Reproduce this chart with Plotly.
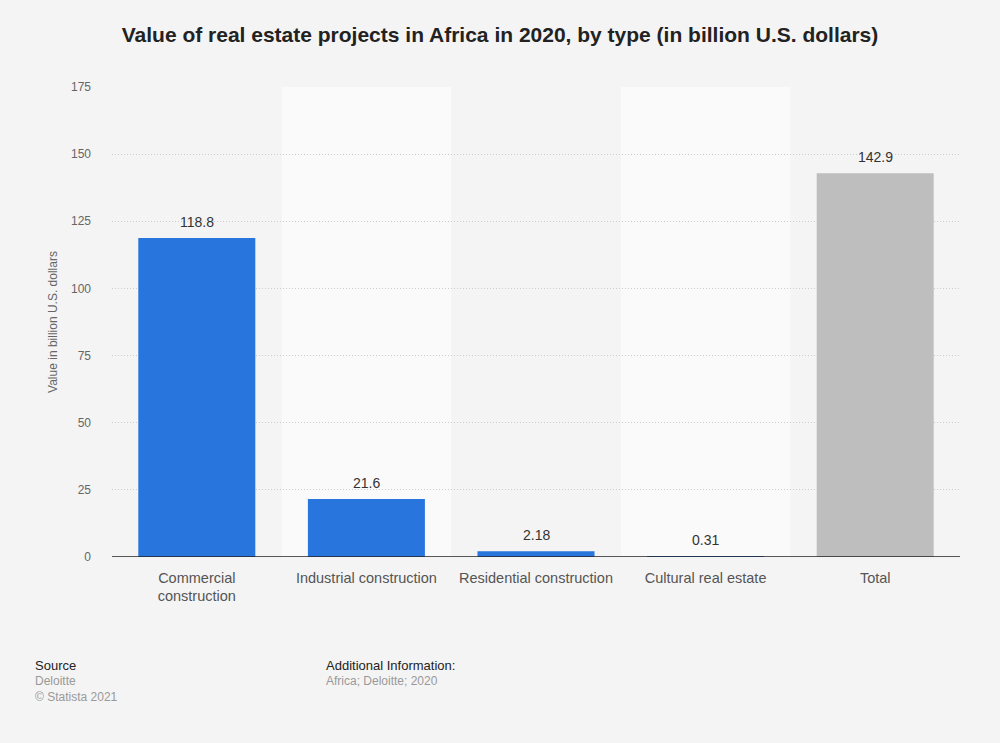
import plotly.graph_objects as go

categories = ["Commercial<br>construction", "Industrial construction", "Residential construction",
              "Cultural real estate", "Total"]
values = [118.8, 21.6, 2.18, 0.31, 142.9]
labels = ["118.8", "21.6", "2.18", "0.31", "142.9"]
bar_colors = ["#2876dd", "#2876dd", "#2876dd", "#2876dd", "#bebebe"]
tick_vals = [0, 25, 50, 75, 100, 125, 150, 175]

FONT = "Liberation Sans, Arial, sans-serif"

fig = go.Figure()
fig.add_trace(go.Bar(
    x=list(range(len(categories))), y=values,
    marker=dict(color=bar_colors, line=dict(width=0)),
    width=0.69, hoverinfo="skip",
))

shapes = []
for i in range(len(categories)):
    if i % 2 == 1:
        shapes.append(dict(type="rect", xref="x", yref="y", x0=i - 0.5, x1=i + 0.5,
                           y0=0, y1=175, fillcolor="#fafafa", line=dict(width=0), layer="below"))
shapes.append(dict(type="line", xref="paper", yref="y", x0=0, x1=1, y0=0, y1=0,
                   line=dict(color="#222222", width=1.5)))

W, H = 1000, 743
l, r, t, b = 112, 40, 87, 186
pw, ph = W - l - r, H - t - b

anns = []
for i, (v, s) in enumerate(zip(values, labels)):
    anns.append(dict(text=s, x=i, y=v, xref="x", yref="y", yanchor="bottom", yshift=6,
                     showarrow=False, font=dict(size=14, color="#333333", family=FONT)))

footer = [("Source", 33, 665, True), ("Deloitte", 33, 681, False), ("© Statista 2021", 33, 697, False),
          ("Additional Information:", 324, 665, True), ("Africa; Deloitte; 2020", 324, 681, False)]
for text, px, py, dark in footer:
    anns.append(dict(text=text, xref="paper", yref="paper",
                     x=(px - l) / pw, y=(H - b - py) / ph,
                     xanchor="left", yanchor="middle", showarrow=False,
                     font=dict(size=13 if dark else 12, color="#222222" if dark else "#999999", family=FONT)))

fig.update_layout(
    width=W, height=H,
    paper_bgcolor="#f4f4f4", plot_bgcolor="#f4f4f4",
    margin=dict(l=l, r=r, t=t, b=b),
    font=dict(family=FONT, color="#666666"),
    showlegend=False,
    shapes=shapes,
    annotations=anns,
    title=dict(text="<b>Value of real estate projects in Africa in 2020, by type (in billion U.S. dollars)</b>",
               x=0.5, xanchor="center", y=(H - 35) / H, yanchor="middle",
               font=dict(size=21, color="#222222", family=FONT)),
    xaxis=dict(tickvals=list(range(len(categories))), ticktext=categories,
               range=[-0.5, len(categories) - 0.5], showgrid=False, zeroline=False,
               tickfont=dict(size=14.5, color="#555555"), ticks="", showline=False,
               ticklabelstandoff=10),
    yaxis=dict(range=[0, 175], tickvals=tick_vals, showgrid=True, gridcolor="#cccccc",
               griddash="1px,2px", gridwidth=1, zeroline=False, ticks="",
               tickfont=dict(size=12, color="#666666"), ticklabelstandoff=20,
               title=dict(text="Value in billion U.S. dollars", font=dict(size=12, color="#666666"),
                          standoff=10)),
)

fig.write_html("out.html", config={"displayModeBar": False},
               post_script="document.body.style.margin='0';document.body.style.background='#f4f4f4';")
